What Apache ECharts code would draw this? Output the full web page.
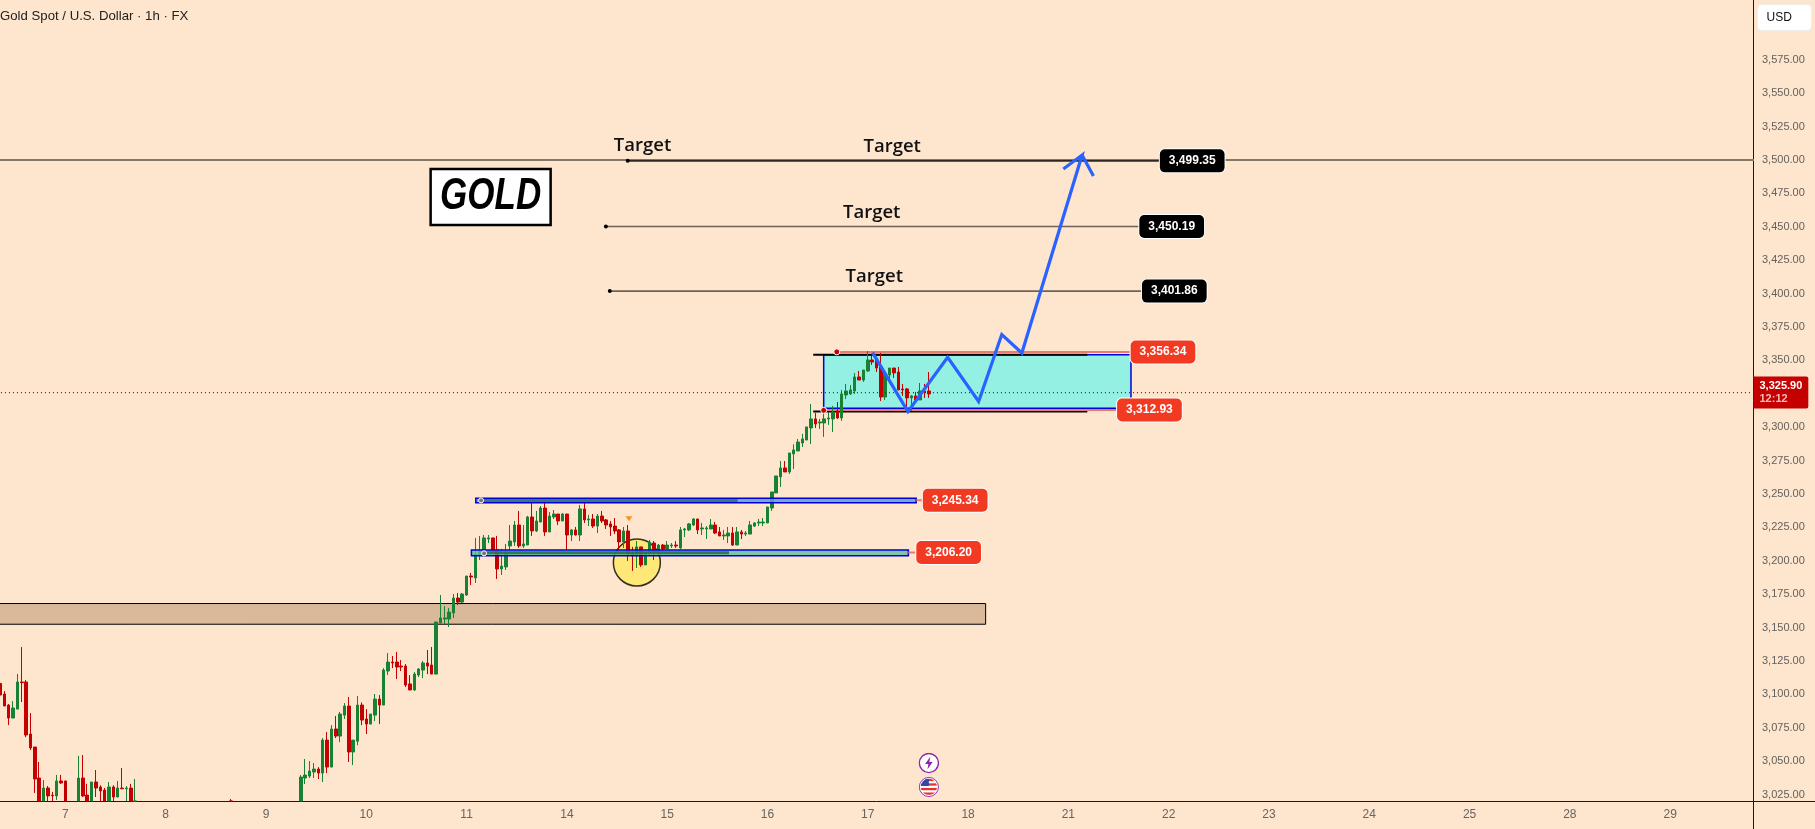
<!DOCTYPE html>
<html><head><meta charset="utf-8">
<style>html,body{margin:0;padding:0;background:#fde5ce;overflow:hidden}#c{width:1815px;height:829px}</style>
<script src="https://cdn.jsdelivr.net/npm/echarts@6/dist/echarts.min.js"></script>
</head><body><div id="c"></div>
<script>
// ---------- tick labels ----------
const dayLabels = [7,8,9,10,11,14,15,16,17,18,21,22,23,24,25,28,29];
const priceTicks = [3025,3050,3075,3100,3125,3150,3175,3200,3225,3250,3275,3300,3325,3350,3375,3400,3425,3450,3475,3500,3525,3550,3575];

// ---------- candles: [open, close, low, high] ----------
const ohlcEarly = [ // bars 0..31
[3108.2,3099.5,3099.5,3109.5],[3100.3,3091.3,3091.3,3102.5],[3092,3082.3,3077,3092.8],[3082.3,3089.8,3082.3,3095],
[3089,3109.3,3089,3115.3],[3109.3,3108.8,3094.3,3135.5],[3109.3,3069.6,3068,3110.8],[3070.3,3059.9,3058.4,3086],
[3060.6,3036.7,3026.2,3060.6],[3037.4,3018,3014,3049.4],[3015,3029.9,3012,3035.9],[3029.9,3024,3020,3031.4],
[3024.6,3024.2,3019,3027],[3024,3035.2,3021,3039.7],[3035.2,3033.7,3033,3039.7],[3035.2,3018,3015,3035.2],
null,null,
[3018,3037.4,3015,3054],[3037.4,3024,3023.2,3054.6],[3024.6,3018,3015,3033],[3018,3034.4,3015,3034.4],
[3034.4,3029.9,3023.2,3043.4],[3030.7,3027.7,3018,3032],[3028.4,3018,3015,3029.9],[3018,3030.7,3015,3034.4],
[3030.7,3023.2,3018,3032],[3023.2,3029.9,3023,3035.2],[3029.9,3029.4,3029,3044.9],[3029.4,3029.9,3018,3031.4],
[3029.9,3018,3015,3033],[3020,3010,3000,3036.7]];
const ohlcLone = [3005,3012,3000,3021.7]; // bar 53, its body lies under the chart floor
const ohlcRally = [ // bars 69..106
[3015,3038.1,3010,3039.6],[3037.4,3039.6,3032.9,3051.6],[3038.9,3042.6,3037.4,3050.1],[3041.9,3044.1,3037.4,3048.6],
[3044.1,3041.1,3036.6,3045.6],[3041.1,3065.8,3034.4,3067.3],[3065.8,3045.6,3041.1,3071.8],[3045.6,3074.1,3045.6,3077],
[3074.1,3068.8,3067.3,3083.8],[3068.8,3085.3,3064.3,3086.8],[3084.5,3091.3,3081.6,3093.5],[3091.3,3056.9,3049.4,3098],
[3056.9,3065.8,3047.1,3065.8],[3065,3092,3062,3098.8],[3092,3080.8,3077,3094],[3081.6,3077.8,3070.3,3089],
[3077.8,3085.3,3077.8,3085.3],[3084.5,3096.5,3080,3100.3],[3096.5,3092,3077.8,3099.5],[3092,3118.2,3092,3119.7],
[3117.5,3124.2,3114.5,3131],[3124.2,3123.5,3119.7,3128.7],[3124.2,3120.5,3111.5,3131.7],[3121.2,3120.5,3117.5,3125.7],
[3121.2,3107,3105.5,3122.7],[3107.8,3103.3,3103.3,3114.5],[3103.3,3115.2,3102.5,3116.7],[3114.5,3119,3113,3119.7],
[3118.2,3123.5,3112.2,3125],[3123.5,3121.2,3115.2,3133.2],[3122,3115.2,3115.2,3135.5],[3115.2,3154.2,3115.2,3154.2],
[3153.4,3157.2,3153.4,3174.4],[3156.4,3157.2,3152.7,3166],[3156.4,3161.6,3150.4,3164.6],[3160.9,3172.1,3157.2,3175.1],
[3172.1,3169.1,3166.9,3175.9],[3169.1,3175.1,3168.4,3175.9]];
const ohlcRange = [ // bars 107..176
[3174.4,3188.6,3173.7,3188.6],[3188.6,3187.9,3181.9,3190.9],[3187.2,3205.1,3183.4,3217.1],[3204.4,3206.9,3200.6,3218.6],
[3205.1,3217.1,3204.4,3219.3],[3216.3,3217.1,3213.3,3219.3],[3217.1,3207.4,3207.4,3217.1],[3208.1,3193.9,3186.4,3218.6],
[3193.9,3196.1,3189.4,3208.9],[3195.4,3205.1,3193.1,3212.6],[3211.1,3214.8,3208.1,3226.8],[3214.1,3226.8,3211.1,3229.8],
[3226.8,3211.1,3209.6,3237.3],[3211.1,3212.6,3209.6,3226.8],[3211.8,3232.8,3211.8,3233.6],[3232.8,3222.3,3218.6,3243.3],
[3222.3,3229.8,3221.6,3237.3],[3229,3239.5,3229,3241],[3239.5,3221.6,3218.6,3244.8],[3221.6,3233.5,3221.6,3236.5],
[3232.8,3235,3231.3,3238],[3235,3229.8,3226.8,3235],[3229.8,3235,3229.8,3235.8],[3235,3219.3,3208.1,3235],
[3219.3,3223.1,3214.8,3223.8],[3223.1,3219.3,3219,3225.3],[3219.3,3238.8,3214.8,3241.8],[3238.8,3230.6,3228.3,3244],
[3230.6,3231.3,3226,3234.3],[3231.3,3226,3224.6,3235],[3226,3233.5,3220.8,3235],[3233.5,3229.8,3228.3,3237.3],
[3230.6,3226.8,3223.8,3231.3],[3227.6,3225.3,3218.6,3229.8],[3226,3222.3,3220,3232],[3223.1,3214.1,3205.9,3223.8],
[3214.1,3222.3,3209.6,3225.3],[3222.3,3205.1,3199.9,3226.8],[3205.9,3203.6,3192.4,3210.4],[3203.6,3210.4,3194.6,3214.8],
[3210.4,3196.9,3195.4,3210.4],[3196.9,3206.6,3196.9,3207.4],[3205.9,3214.1,3204.4,3215.6],[3213.3,3206.6,3200.6,3214.8],
[3206.6,3211.8,3205.9,3212.6],[3211.8,3208.9,3206.6,3212.6],[3208.9,3211.8,3208.9,3214.8],[3211.1,3211.8,3209.6,3213.3],
[3211.8,3211.1,3209.6,3214.8],[3209.6,3223.1,3208.9,3225.3],[3223.1,3223.8,3217.8,3224.6],[3223.1,3227.6,3222.3,3228.3],
[3226.8,3231.3,3226,3232],[3231.3,3223.1,3220,3231.3],[3223.8,3224.6,3219.3,3228.3],[3223.8,3224.6,3216.3,3226],
[3223.8,3226.8,3223.8,3231.3],[3226.8,3220.8,3220,3229],[3221.6,3218.6,3218.6,3225.3],[3218.6,3219.3,3215.6,3223.1],
[3218.6,3220.8,3213.3,3225.3],[3220.8,3211.8,3211.1,3225.3],[3211.8,3221.6,3211.8,3225.3],[3221.6,3220,3216.3,3223.1],
[3220,3220.8,3218.6,3222.3],[3220,3226.8,3220,3229.8],[3226,3228.3,3225.3,3229],[3228.3,3229,3226,3231.3],
[3228.3,3229,3226,3232],[3228.3,3240.3,3228.3,3240.3]];
const ohlcBreakout = [ // bars 177..213
[3239.5,3251.5,3237.3,3251.5],[3250.8,3263.5,3250.8,3263.5],[3262.8,3269.5,3255.3,3274.7],[3269.5,3266.5,3266.5,3274.7],
[3266.5,3280.7,3265,3280.7],[3280,3283,3268.7,3287.2],[3282.2,3288.9,3282.2,3291.2],[3288.2,3291.2,3285.2,3295],
[3290.4,3300.2,3290.4,3300.2],[3299.4,3306.2,3287.4,3317.4],[3306.2,3302.4,3299.4,3310.7],[3303.2,3303.9,3298.7,3306.2],
[3303.2,3306.2,3292.7,3313.7],[3306.2,3306.9,3301.7,3311.4],[3306.2,3311.4,3296.4,3315.9],[3312.2,3306.9,3306.2,3318.9],
[3306.9,3324.9,3304.7,3327.9],[3324.1,3327.1,3321.1,3332.4],[3324.9,3327.9,3324.1,3331.6],[3327.1,3337.6,3324.9,3340.6],
[3337.6,3335.3,3335.3,3342.1],[3335.3,3342.8,3333.9,3342.8],[3342.1,3350.3,3341.3,3357],[3350.3,3348.8,3346.6,3353.3],
[3351.1,3344.3,3341.3,3351.8],[3345.1,3322.6,3319.6,3355.6],[3322.6,3339.9,3320.4,3339.9],[3339.1,3344.3,3336.1,3344.3],
[3344.3,3340.6,3336.9,3344.3],[3341.3,3327.9,3327.9,3345.1],[3328.6,3327.9,3323.4,3332.4],[3328.6,3321.9,3312.2,3329.4],
[3321.9,3323.4,3312.2,3324.1],[3323.4,3320.4,3320.4,3326.4],[3320.4,3327.1,3320.4,3333.1],[3327.1,3326.4,3321.9,3332.4],
[3327.1,3324.9,3321.9,3341.3]];

// ---------- annotations, x in bar numbers, y in prices ----------
const BAR_COUNT = 403;
const PRICE_FLOOR = 3020.2;
const lastPrice = 3325.9;
const roundLevel = 3500;
const supplyBand = [-2, 225.5, 3168, 3152.5];
const tealBox = [188.4, 258.8, 3354.3, 3314.1];
const zoneHigh = [108.7, 209.6, 3246.8, 3243.5];
const zoneLow = [107.7, 207.8, 3208.1, 3203.8];
const zoneHighCore = [[110.5,3245.2],[168.7,3245.2]];
const zoneLowCore = [[110,3206],[166.7,3206]];
const targetLines = [
  {from:143.5,to:265.3,price:3499.35,text:'3,499.35'},
  {from:138.5,to:260.6,price:3450.19,text:'3,450.19'},
  {from:139.4,to:261.2,price:3401.86,text:'3,401.86'}];
const targetWords = [[146.9,3511],[204.1,3510.2],[199.4,3460.8],[200,3412.4]];
const stopLines = [
  {from:191.4,to:258.6,price:3356.34,text:'3,356.34'},
  {from:188.4,to:255.5,price:3312.93,text:'3,312.93'}];
const zoneTags = [
  {from:209.6,to:211,price:3245.34,text:'3,245.34'},
  {from:207.8,to:209.5,price:3206.2,text:'3,206.20'}];
const blackRails = [[186,248.8,3354.3],[186,248.8,3311.8]];
const bluePath = [[199.6,3355.8],[207.7,3311.6],[216.8,3352.3],[223.9,3319.2],[229.2,3369.4],[233.8,3355.5],[247.6,3503.7],[243.3,3493.3],[247.6,3503.7],[250.2,3488]];
const circleSpot = [145.6,3198.7];
const arrowMark = [143.8,3231.5];
const redDots = [[191.4,3356.4],[188.4,3312.6]];
const greyDots = [[109.9,3245.2],[110.6,3205.6]];
const goldTag = [112.1,3472.3];
const lightningSpot = [212.5,3048.6];
const flagSpot = [212.5,3030.7];

// ---------- assembled from the lists above ----------
const categories = Array.from({length:BAR_COUNT},(_,i)=>(i-15)%23===0&&i>=15?String(dayLabels[(i-15)/23]??''):'');
const GAP=['-','-','-','-'];
const candles = new Array(214).fill(GAP);
const floored=r=>r.map(v=>Math.max(v,PRICE_FLOOR)); // what lies under the chart floor is cut off there
ohlcEarly.forEach((r,i)=>candles[i]=r?floored(r):GAP);
candles[53]=floored(ohlcLone);
ohlcRally.forEach((r,i)=>candles[69+i]=floored(r));
ohlcRange.forEach((r,i)=>candles[107+i]=r);
ohlcBreakout.forEach((r,i)=>candles[177+i]=r);

const BG='#fde5ce',UP='#178234',DOWN='#c40000',BLUE='#0000dd',FONT='"Liberation Sans",Arial,sans-serif';
const seg=(pts,color,width,z,extra)=>Object.assign({type:'line',xAxisIndex:1,yAxisIndex:0,data:pts,symbol:'none',silent:true,animation:false,z,clip:true,lineStyle:{color,width,cap:'butt'}},extra||{});
const rect=(v,fill,stroke,lw,z)=>({type:'custom',xAxisIndex:1,yAxisIndex:0,silent:true,animation:false,z,clip:true,data:[v],encode:{x:[0,1],y:[2,3]},
  renderItem:(p,api)=>{const a=api.coord([api.value(0),api.value(2)]),b=api.coord([api.value(1),api.value(3)]);
    return {type:'rect',shape:{x:a[0],y:a[1],width:b[0]-a[0],height:b[1]-a[1]},style:{fill,stroke,lineWidth:lw}};}});
const pin=(pt,label,z)=>({type:'scatter',xAxisIndex:1,yAxisIndex:0,silent:true,animation:false,z:z||20,clip:false,symbolSize:1,itemStyle:{color:'rgba(0,0,0,0)',opacity:1},data:[pt],label:Object.assign({show:true},label)});
const tag=(line,bg)=>pin([line.to,line.price],{position:'right',distance:0,formatter:line.text,backgroundColor:bg,color:'#fff',borderColor:'#fff',borderWidth:1,borderRadius:5,padding:[5,9,5,9],fontFamily:FONT,fontWeight:'bold',fontSize:12,lineHeight:13});
const dots=(pts,color,size,border,z)=>({type:'scatter',xAxisIndex:1,yAxisIndex:0,silent:true,animation:false,z,symbolSize:size,data:pts,itemStyle:{color,opacity:1,borderColor:border||undefined,borderWidth:border?1:0}});
const flagSvg='data:image/svg+xml;utf8,'+encodeURIComponent('<svg xmlns="http://www.w3.org/2000/svg" width="22" height="22"><defs><clipPath id="c"><circle cx="11" cy="11" r="8.5"/></clipPath></defs><circle cx="11" cy="11" r="10" fill="#fff" stroke="#9c27b0" stroke-width="1"/><g clip-path="url(#c)"><rect width="22" height="22" fill="#fff"/><rect y="2.5" width="22" height="2.4" fill="#e5322d"/><rect y="7.2" width="22" height="2.4" fill="#e5322d"/><rect y="12" width="22" height="2.4" fill="#e5322d"/><rect y="16.8" width="22" height="2.4" fill="#e5322d"/><rect width="11" height="10" fill="#2b4aa8"/></g></svg>');
const boltSvg='data:image/svg+xml;utf8,'+encodeURIComponent('<svg xmlns="http://www.w3.org/2000/svg" width="22" height="22"><circle cx="11" cy="11" r="10" fill="#fff" stroke="#8e24aa" stroke-width="1.4"/><path d="M12.5 4.5 L7 12 L10.5 12 L9.5 17.5 L15 10 L11.5 10 Z" fill="#8e24aa"/></svg>');

const series=[
  rect(supplyBand,'#d9b99a','#000',1,2),
  rect(tealBox,'#95f0e4',BLUE,1.5,2),
  {type:'scatter',xAxisIndex:1,yAxisIndex:0,silent:true,animation:false,z:3,symbolSize:47,data:[circleSpot],itemStyle:{color:'#ffe878',opacity:1,borderColor:'#33301f',borderWidth:1.5}},
  seg([[-1,roundLevel],[BAR_COUNT,roundLevel]],'#857766',2,4),
  ...blackRails.map(r=>seg([[r[0],r[2]],[r[1],r[2]]],'#000',2,5)),
  ...targetLines.map((t,i)=>seg([[t.from,t.price],[t.to,t.price]],i===0?'#2e2820':'#6f6255',1.6,5)),
  ...stopLines.map(t=>seg([[t.from,t.price],[t.to,t.price]],'#ea7a6e',2,5)),
  {type:'candlestick',xAxisIndex:0,yAxisIndex:0,data:candles,barWidth:3,silent:true,animation:false,z:8,clip:true,
   itemStyle:{color:UP,color0:DOWN,borderColor:UP,borderColor0:DOWN,borderWidth:1}},
  rect(zoneHigh,'rgba(100,160,190,0.85)',BLUE,1.5,10),
  rect(zoneLow,'rgba(90,190,160,0.8)',BLUE,1.5,10),
  seg(zoneHighCore,'rgba(40,110,90,0.8)',3,11),
  seg(zoneLowCore,'rgba(30,100,70,0.8)',3,11),
  ...zoneTags.map(t=>seg([[t.from,t.price],[t.to,t.price]],'#ea7a6e',2,11)),
  seg([[-1,lastPrice],[BAR_COUNT,lastPrice]],DOWN,1.2,12,{lineStyle:{color:DOWN,width:1.2,type:[1,3]}}),
  seg(bluePath,'#2962ff',3.2,13,{lineStyle:{color:'#2962ff',width:3.2,join:'miter',cap:'butt'}}),
  dots(targetLines.map(t=>[t.from,t.price]),'#000',4,null,14),
  dots(redDots,DOWN,6,'#fff',14),
  dots(greyDots,'#77727c',5,'#fff',14),
  {type:'scatter',xAxisIndex:1,yAxisIndex:0,silent:true,animation:false,z:14,symbol:'triangle',symbolRotate:180,symbolSize:[7,5],data:[arrowMark],itemStyle:{color:'#f7931e',opacity:1}},
  {type:'scatter',xAxisIndex:1,yAxisIndex:0,silent:true,animation:false,z:14,symbol:'image://'+boltSvg,symbolSize:21,data:[lightningSpot],itemStyle:{opacity:1}},
  {type:'scatter',xAxisIndex:1,yAxisIndex:0,silent:true,animation:false,z:14,symbol:'image://'+flagSvg,symbolSize:21,data:[flagSpot],itemStyle:{opacity:1}},
  ...targetWords.map(w=>pin(w,{position:'inside',formatter:'Target',color:'#111',fontFamily:'"Open Sans",sans-serif',fontWeight:600,fontSize:18.5})),
  {type:'custom',xAxisIndex:1,yAxisIndex:0,silent:true,animation:false,z:20,clip:false,data:[goldTag],encode:{x:0,y:1},
   renderItem:(p,api)=>{const c=api.coord([api.value(0),api.value(1)]);
     return {type:'group',children:[
       {type:'rect',shape:{x:c[0]-60,y:c[1]-28,width:120,height:56},style:{fill:'#fff',stroke:'#000',lineWidth:2.5}},
       {type:'text',x:c[0],y:c[1],scaleY:1.25,style:{text:'GOLD',fill:'#000',font:'italic bold 35px '+FONT,textAlign:'center',textVerticalAlign:'middle'}}]};}},
  ...targetLines.map(t=>tag(t,'#000')),
  ...stopLines.map(t=>tag(t,'#f23a23')),
  ...zoneTags.map(t=>tag(t,'#f23a23')),
  pin([401.3,lastPrice],{position:'right',distance:0,backgroundColor:DOWN,borderRadius:[0,2,2,0],padding:[3,6,3,6],align:'left',
    formatter:'{a|3,325.90}\n{b|12:12}',rich:{a:{color:'#fff',fontFamily:FONT,fontWeight:'bold',fontSize:11,lineHeight:13},b:{color:'#f6bcbc',fontFamily:FONT,fontWeight:'bold',fontSize:11,lineHeight:13}}},30)
];

const chart=echarts.init(document.getElementById('c'),null,{width:1815,height:829});
chart.setOption({
  animation:false,backgroundColor:BG,
  grid:{left:0,right:62,top:0,bottom:28,containLabel:false,outerBoundsMode:'none'},
  xAxis:[
    {type:'category',data:categories,boundaryGap:false,axisLine:{show:true,onZero:false,lineStyle:{color:BLUE,width:1}},axisTick:{show:false},splitLine:{show:false},
     axisLabel:{interval:0,margin:8,color:'#646464',fontFamily:FONT,fontSize:12}},
    {type:'value',min:-0.3,max:401.3,show:false}
  ],
  yAxis:[{type:'value',position:'right',min:PRICE_FLOOR,max:3619.76,splitLine:{show:false},axisTick:{show:false},
    axisLine:{show:true,onZero:false,lineStyle:{color:BLUE,width:1}},
    axisLabel:{customValues:priceTicks,margin:9,color:'#64615d',fontFamily:FONT,fontSize:11,padding:[2,0,0,0],
      formatter:v=>Number(v).toLocaleString('en-US',{minimumFractionDigits:2,maximumFractionDigits:2})}}],
  series,
  graphic:[
    {type:'text',left:0,top:10,z:50,style:{text:'Gold Spot / U.S. Dollar · 1h · FX',fill:'#222',font:'13.2px '+FONT}},
    {type:'line',z:50,shape:{x1:1753,y1:801.5,x2:1815,y2:801.5},style:{stroke:BLUE,lineWidth:1}},
    {type:'line',z:50,shape:{x1:1753.5,y1:801,x2:1753.5,y2:829},style:{stroke:BLUE,lineWidth:1}},
    {type:'group',left:1757,top:4,z:50,children:[
      {type:'rect',shape:{x:0,y:0,width:54,height:26,r:4},style:{fill:'#fff',stroke:'#f1ede8',lineWidth:1}},
      {type:'text',x:9,y:7,style:{text:'USD',fill:'#111',font:'12px '+FONT}}]}
  ]
});
</script></body></html>
